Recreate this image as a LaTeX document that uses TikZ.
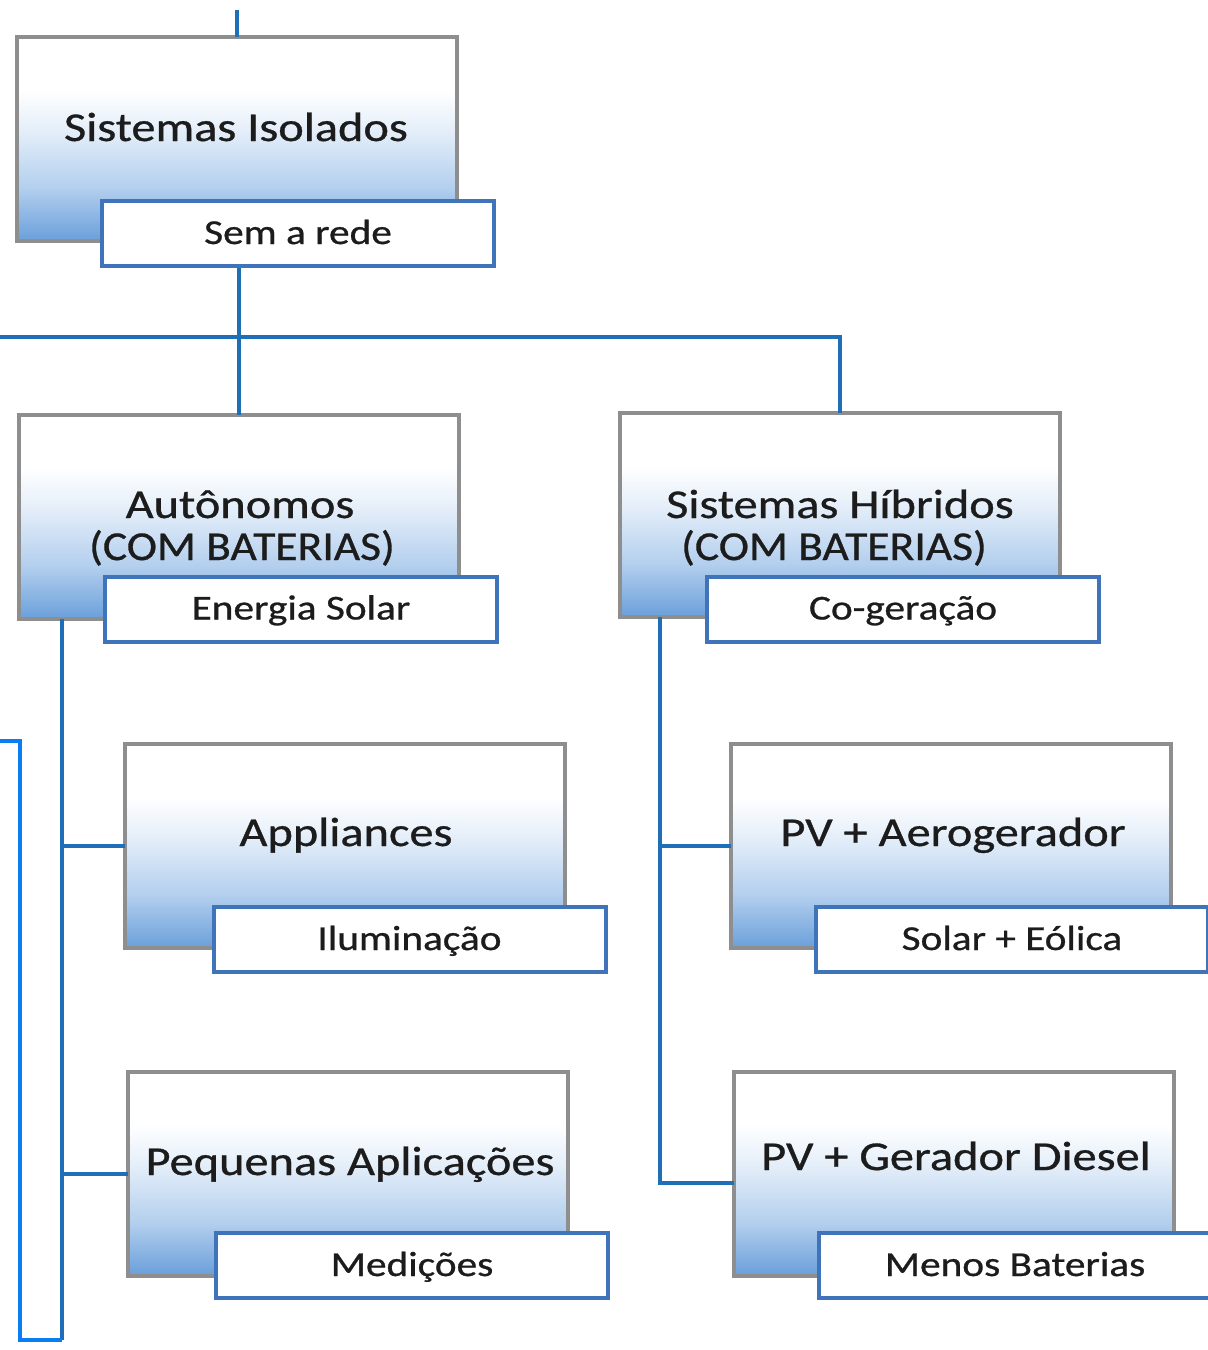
\documentclass[tikz,border=0pt]{standalone}
\usepackage{fontspec}
\setmainfont{Carlito}[FakeBold=0.7]
\usepackage{graphicx}

\definecolor{linkblue}{HTML}{1F6FB8}
\definecolor{brightblue}{HTML}{0A7DF2}
\definecolor{framegray}{HTML}{8E8E8E}
\definecolor{tagblue}{HTML}{3F74BA}
\definecolor{shadebot}{HTML}{6A9FDA}
\definecolor{shademid}{HTML}{B3CFEE}
\definecolor{shadelt}{HTML}{E4EEF9}
\definecolor{inkgray}{HTML}{1C1C1C}

% panel fill: white at the top, fading to blue at the bottom
\pgfdeclareverticalshading{panelshade}{100bp}{%
  color(0bp)=(shadebot); color(25bp)=(shadebot); color(38bp)=(shademid);
  color(52bp)=(shadelt); color(62bp)=(white); color(100bp)=(white)}

% the lettering is slightly widened
\newcommand{\wide}[2][1.18]{\scalebox{#1}[1]{#2}}

\tikzset{
  panel/.style={draw=framegray, line width=2pt, shading=panelshade,
    minimum width=220pt, minimum height=102pt, inner sep=0pt, outer sep=0pt},
  tag/.style={draw=tagblue, line width=2pt, fill=white,
    minimum width=196pt, minimum height=32.5pt, inner sep=0pt, outer sep=0pt,
    text height=12.5pt, text depth=2pt, text=inkgray,
    font=\fontsize{17.5pt}{20pt}\selectfont},
  title/.style={anchor=base, inner sep=0pt, text=inkgray,
    font=\fontsize{20.5pt}{22pt}\selectfont},
  link/.style={draw=linkblue, line width=2pt},
  bracket/.style={draw=brightblue, line width=2pt},
}

\begin{document}
\begin{tikzpicture}[x=0.5pt, y=-0.5pt]
  \useasboundingbox (0,0) rectangle (1208,1350);
  \fill[white] (0,0) rectangle (1208,1350);
  \clip (0,0) rectangle (1208,1350);

  % main panels
  \node[panel] (sis) at (237,139)    {};
  \node[panel] (aut) at (238.5,517)  {};
  \node[panel] (hib) at (839.5,515)  {};
  \node[panel] (app) at (345,846)    {};
  \node[panel] (peq) at (348,1173.5) {};
  \node[panel] (pva) at (950.5,846)  {};
  \node[panel] (pvd) at (953.5,1173.5) {};

  % free ends of the connectors
  \coordinate (topend) at (238,10);
  \coordinate (busL)   at (0,337);
  \coordinate (spineL) at (62,1340);
  \coordinate (spineR) at (660,1183);
  \coordinate (brkTop) at (0,741);

  % connectors (drawn under the tags)
  \draw[link] (sis.north) -- (sis.north |- topend);
  \draw[link] (busL) -- (busL -| hib.north) -- (hib.north);
  \draw[link] (aut.north |- sis.south) -- (aut.north);
  \draw[link] (aut.south -| spineL) -- (spineL);
  \draw[link] (app.west -| spineL) -- (app.west);
  \draw[link] (peq.west -| spineL) -- (peq.west);
  \draw[link] (hib.south -| spineR) -- (spineR) -- (spineR -| pvd.west);
  \draw[link] (pva.west -| spineR) -- (pva.west);
  \draw[bracket] (brkTop) -- (20,741) |- (spineL);

  % captions in the panels
  \node[title] (t-sis)  at (236,141)  {\wide{Sistemas Isolados}};
  \node[title] (t-aut1) at (240,518)  {\wide{Autônomos}};
  \node[title] (t-aut2) at (242,560)  {\wide[1.11]{(COM BATERIAS)}};
  \node[title] (t-hib1) at (840,518)  {\wide{Sistemas Híbridos}};
  \node[title] (t-hib2) at (834,560)  {\wide[1.11]{(COM BATERIAS)}};
  \node[title] (t-app)  at (346,846)  {\wide{Appliances}};
  \node[title] (t-peq)  at (350,1175) {\wide{Pequenas Aplicações}};
  \node[title] (t-pva)  at (953,846)  {\wide{PV + Aerogerador}};
  \node[title] (t-pvd)  at (956,1170) {\wide{PV + Gerador Diesel}};

  % tags overlapping the lower right of each panel
  \node[tag] (rede) at (298,233.5)  {\wide{Sem a rede}};
  \node[tag] (ene)  at (301,609)    {\wide{Energia Solar}};
  \node[tag] (cog)  at (903,609)    {\wide{Co-geração}};
  \node[tag] (ilu)  at (409.5,939.5) {\wide{Iluminação}};
  \node[tag] (med)  at (412,1265.5) {\wide{Medições}};
  \node[tag] (sol)  at (1012,939.5) {\wide{Solar + Eólica}};
  \node[tag] (men)  at (1015,1265.5) {\wide{Menos Baterias}};
\end{tikzpicture}
\end{document}
